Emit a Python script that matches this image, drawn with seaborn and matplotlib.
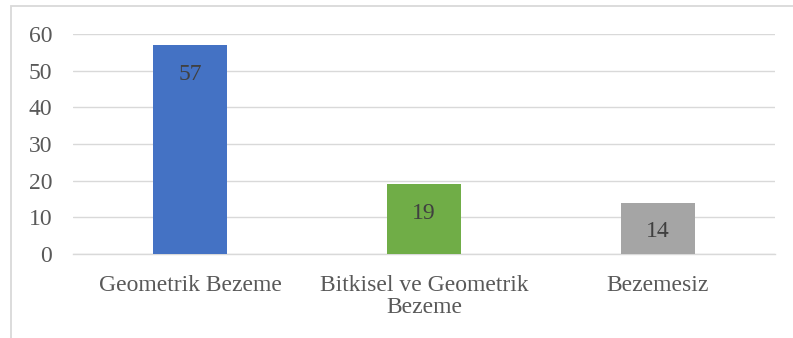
import matplotlib
matplotlib.use("Agg")
import matplotlib.pyplot as plt
from matplotlib.patches import Rectangle
import seaborn as sns
import pandas as pd

categories = ["Geometrik Bezeme", "Bitkisel ve Geometrik\nBezeme", "Bezemesiz"]
values = [57, 19, 14]
colors = ["#4472C4", "#70AD47", "#A5A5A5"]
y_ticks = [0, 10, 20, 30, 40, 50, 60]

sns.set_theme(style="white")
plt.rcParams["font.family"] = ["Liberation Serif", "DejaVu Serif"]

df = pd.DataFrame({"kategori": categories, "adet": values})

fig = plt.figure(figsize=(7.93, 3.38), dpi=100)
ax = fig.add_axes([73 / 793, 1 - 254 / 338, (775 - 73) / 793, (254 - 34) / 338])

sns.barplot(data=df, x="kategori", y="adet", hue="kategori",
            palette=colors, width=0.316, legend=False, ax=ax,
            saturation=1, linewidth=0, zorder=3)

ax.set_ylim(0, 60)
ax.set_xlim(-0.5, len(categories) - 0.5)
ax.set_yticks(y_ticks)
ax.set_xlabel("")
ax.set_ylabel("")
ax.grid(axis="y", color="#D9D9D9", linewidth=1.0, zorder=0)
ax.set_axisbelow(True)
for s in ["top", "right", "left"]:
    ax.spines[s].set_visible(False)
ax.spines["bottom"].set_color("#D9D9D9")
ax.spines["bottom"].set_linewidth(1.0)

ax.tick_params(axis="y", length=0, pad=15, labelsize=17, labelcolor="#595959")
ax.tick_params(axis="x", length=0, pad=15, labelsize=17, labelcolor="#595959")
for lbl in ax.get_xticklabels():
    lbl.set_linespacing(1.1)

for i, v in enumerate(values):
    ax.annotate(str(v), xy=(i, v), xytext=(0, -21), textcoords="offset points",
                ha="center", va="center", fontsize=17, color="#404040")

# light frame around the chart area
fig.add_artist(Rectangle((11 / 793, -0.5), 2.0, (1 - 6 / 338) + 0.5,
                         transform=fig.transFigure, fill=False,
                         edgecolor="#D9D9D9", linewidth=1.3))

fig.savefig("out.png", dpi=100)
